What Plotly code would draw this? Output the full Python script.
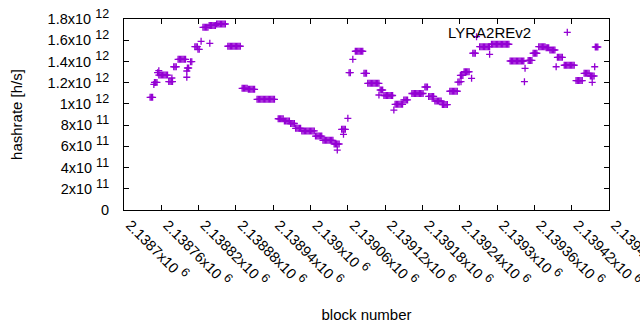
import plotly.graph_objects as go

BLOCK_BASE = 2138700

# block number offsets from BLOCK_BASE
block_offset = [
    42, 44, 46,
    48, 49, 51, 53, 54,
    56, 56, 58, 60, 62, 64, 66, 68, 70,
    72, 74, 76, 77, 78,
    80, 82, 84,
    87, 89, 91, 93, 95, 97, 99,
    101, 101,
    102, 104,
    107, 109,
    114, 116, 118, 119, 121,
    124,
    127, 129, 131, 133, 135,
    137, 138, 139, 141, 143, 145, 147,
    149, 151, 153, 155, 157, 159, 161, 163,
    167, 169, 171, 173, 175, 177, 179, 181, 183, 185, 187,
    190, 192, 194, 196, 198,
    200, 202, 204, 206, 208, 210,
    214, 216, 218, 220, 222, 224, 226, 228, 230, 232, 234, 236, 238, 240, 242,
    248, 250, 252, 254, 256,
    258, 260, 262, 264, 266, 268, 270, 272, 274,
    276, 278, 280, 282, 284,
    286, 288, 290, 292, 294, 296, 298, 300, 302, 304, 306,
    308, 310, 312, 314, 316, 318,
    320, 322, 324, 326, 328, 330, 332, 334, 336,
    338, 340, 342, 343, 344, 346,
    350, 352, 353, 354, 356,
    360, 362, 364, 368,
    372, 374, 376, 378, 380, 382, 384,
    386, 388, 390,
    392, 394, 396, 398, 400, 402, 404, 406, 408, 410,
    410, 412, 414, 416,
    418, 420, 422, 424, 426, 428, 430, 432,
    434,
    436, 438, 440, 442, 444, 446, 448, 450, 452, 454, 456,
    463, 465, 467, 469, 471, 473, 475, 477, 479, 481,
    484, 486, 488,
    490, 492, 494, 496, 498,
    500, 502, 504, 506, 508, 510,
    512, 514, 516, 518, 520,
    524, 526, 528, 530, 532, 534, 536,
    537, 539,
    541, 542, 543, 545,
    547, 549, 551, 553, 555, 559,
    561, 563, 565, 567,
    572, 574, 576, 578, 580, 582, 584, 586, 588, 588,
    591, 593, 595, 597, 599, 601, 603, 605, 607, 609, 611, 613, 615, 617, 619,
    621, 623, 625, 627, 629, 631, 633, 635, 637, 639, 641, 643,
    644, 645,
    650, 652, 654, 656,
    658, 660, 662, 664,
    667, 669, 671, 673, 675, 677,
    679, 681, 683, 685, 687, 689, 691, 693,
    695, 697, 699, 701, 703, 705,
    708, 710, 712, 714, 716, 718, 720, 722, 724,
    727, 729, 731, 733, 735, 737,
    740, 742, 744, 746, 748,
    750, 752, 753, 754, 756, 757,
    758, 760, 762,
]

# hashrate in units of 10^12 h/s
hashrate_e12 = [
    1.062, 1.062, 1.062,
    1.183, 1.202, 1.202, 1.202, 1.294,
    1.313, 1.272, 1.272, 1.272, 1.272, 1.272, 1.272, 1.272, 1.272,
    1.21, 1.21, 1.21, 1.244, 1.21,
    1.35, 1.35, 1.35,
    1.42, 1.42, 1.42, 1.42, 1.42, 1.42, 1.42,
    1.251, 1.31,
    1.338, 1.338,
    1.398, 1.398,
    1.539, 1.539, 1.539, 1.514, 1.514,
    1.59,
    1.722, 1.722, 1.722, 1.722, 1.722,
    1.739, 1.571, 1.739, 1.739, 1.739, 1.739, 1.739,
    1.753, 1.753, 1.753, 1.753, 1.753, 1.753, 1.753, 1.753,
    1.543, 1.543, 1.543, 1.543, 1.543, 1.543, 1.543, 1.543, 1.543, 1.543, 1.543,
    1.147, 1.147, 1.147, 1.147, 1.147,
    1.137, 1.137, 1.137, 1.137, 1.137, 1.137,
    1.043, 1.043, 1.043, 1.043, 1.043, 1.043, 1.043, 1.043, 1.043, 1.043, 1.043, 1.043, 1.043, 1.043, 1.043,
    0.86, 0.86, 0.86, 0.86, 0.86,
    0.839, 0.839, 0.839, 0.839, 0.839, 0.815, 0.815, 0.815, 0.815,
    0.77, 0.77, 0.77, 0.77, 0.77,
    0.745, 0.745, 0.745, 0.745, 0.745, 0.745, 0.745, 0.745, 0.745, 0.745, 0.745,
    0.697, 0.697, 0.697, 0.697, 0.697, 0.697,
    0.657, 0.657, 0.657, 0.657, 0.657, 0.657, 0.657, 0.657, 0.657,
    0.622, 0.622, 0.622, 0.565, 0.622, 0.622,
    0.76, 0.76, 0.713, 0.76, 0.76,
    0.864, 1.294, 1.294, 1.42,
    1.496, 1.496, 1.496, 1.496, 1.496, 1.496, 1.496,
    1.288, 1.288, 1.288,
    1.194, 1.194, 1.194, 1.194, 1.194, 1.194, 1.194, 1.194, 1.194, 1.194,
    1.084, 1.131, 1.131, 1.131,
    1.079, 1.079, 1.079, 1.079, 1.079, 1.079, 1.079, 1.079,
    0.942,
    0.996, 0.996, 0.996, 0.996, 0.996, 0.996, 0.996, 1.037, 1.037, 1.037, 1.037,
    1.098, 1.098, 1.098, 1.098, 1.098, 1.098, 1.098, 1.098, 1.098, 1.098,
    1.159, 1.159, 1.159,
    1.07, 1.07, 1.07, 1.07, 1.07,
    1.027, 1.027, 1.027, 1.027, 1.027, 1.027,
    0.994, 0.994, 0.994, 0.994, 0.994,
    1.119, 1.119, 1.119, 1.119, 1.119, 1.119, 1.119,
    1.206, 1.206,
    1.268, 1.209, 1.268, 1.268,
    1.303, 1.303, 1.303, 1.303, 1.303, 1.241,
    1.477, 1.477, 1.477, 1.633,
    1.539, 1.539, 1.539, 1.539, 1.539, 1.539, 1.539, 1.539, 1.539, 1.467,
    1.562, 1.562, 1.562, 1.562, 1.562, 1.562, 1.562, 1.562, 1.562, 1.562, 1.562, 1.562, 1.562, 1.562, 1.562,
    1.404, 1.404, 1.404, 1.404, 1.404, 1.404, 1.404, 1.404, 1.404, 1.404, 1.404, 1.404,
    1.209, 1.335,
    1.41, 1.41, 1.41, 1.41,
    1.477, 1.477, 1.477, 1.477,
    1.539, 1.539, 1.539, 1.539, 1.539, 1.539,
    1.53, 1.53, 1.53, 1.508, 1.508, 1.508, 1.508, 1.508,
    1.35, 1.439, 1.439, 1.439, 1.439, 1.439,
    1.364, 1.364, 1.364, 1.364, 1.364, 1.364, 1.364, 1.364, 1.364,
    1.22, 1.22, 1.22, 1.22, 1.22, 1.22,
    1.288, 1.288, 1.288, 1.288, 1.288,
    1.263, 1.263, 1.203, 1.263, 1.263, 1.35,
    1.536, 1.536, 1.536,
]

x_tickvals = [2138700, 2138760, 2138820, 2138880, 2138940, 2139000, 2139060,
              2139120, 2139180, 2139240, 2139300, 2139360, 2139420, 2139480]
x_tick_mantissa = ["2.1387", "2.13876", "2.13882", "2.13888", "2.13894", "2.139", "2.13906",
                   "2.13912", "2.13918", "2.13924", "2.1393", "2.13936", "2.13942", "2.13948"]
x_tick_exp = "6"
y_tickvals = [0, 2e11, 4e11, 6e11, 8e11, 1e12, 1.2e12, 1.4e12, 1.6e12, 1.8e12]
y_tick_mantissa = ["0", "2", "4", "6", "8", "1", "1.2", "1.4", "1.6", "1.8"]
y_tick_exp = ["", "11", "11", "11", "11", "12", "12", "12", "12", "12"]

series_name = "LYRA2REv2"
COLOR = "#9400D3"
FONT = "Liberation Sans, Arial, sans-serif"
SUP = '<sup><span style="font-size:12.5px">{}</span></sup>'


def sci(m, e):
    return m if not e else m + "x10 " + SUP.format(e)


x_ticktext = [sci(m, x_tick_exp) for m in x_tick_mantissa]
y_ticktext = [sci(m, e) for m, e in zip(y_tick_mantissa, y_tick_exp)]

blocks = [BLOCK_BASE + o for o in block_offset]
hashrate = [v * 1e12 for v in hashrate_e12]

fig = go.Figure()
fig.add_trace(go.Scatter(
    x=blocks, y=hashrate, mode="markers", name=series_name,
    marker=dict(symbol="cross-thin", size=5, color=COLOR,
                line=dict(color=COLOR, width=1.3)),
    showlegend=False, hoverinfo="skip",
))

axis_common = dict(
    showline=True, linecolor="black", linewidth=1, mirror="ticks",
    ticks="inside", ticklen=5, tickcolor="black", tickwidth=1,
    showgrid=False, zeroline=False, ticklabeloverflow="allow",
    tickfont=dict(family=FONT, size=14.5, color="black"),
)

fig.update_layout(
    width=640, height=330,
    margin=dict(l=124, r=31, t=19, b=120, autoexpand=False),
    paper_bgcolor="white", plot_bgcolor="white",
    font=dict(family=FONT, size=14.5, color="black"),
    hovermode=False,
    xaxis=dict(range=[x_tickvals[0], x_tickvals[-1]], tickmode="array",
               tickvals=x_tickvals, ticktext=x_ticktext, tickangle=45,
               ticklabelshift=6,
               title=dict(text="block number", font=dict(family=FONT, size=15), standoff=20),
               **axis_common),
    yaxis=dict(range=[y_tickvals[0], y_tickvals[-1]], tickmode="array",
               tickvals=y_tickvals, ticktext=y_ticktext, ticklabelstandoff=11,
               title=dict(text="hashrate [h/s]", font=dict(family=FONT, size=15), standoff=21),
               **axis_common),
    annotations=[dict(text=series_name, xref="paper", yref="paper", x=0.844, y=0.93,
                      xanchor="right", yanchor="middle", showarrow=False,
                      font=dict(family=FONT, size=15, color="black"))],
    shapes=[
        dict(type="line", xref="paper", yref="paper", xsizemode="pixel", ysizemode="pixel",
             xanchor=0.914, yanchor=0.93, x0=-3.5, x1=3.5, y0=0, y1=0,
             line=dict(color=COLOR, width=1.3)),
        dict(type="line", xref="paper", yref="paper", xsizemode="pixel", ysizemode="pixel",
             xanchor=0.914, yanchor=0.93, x0=0, x1=0, y0=-3.5, y1=3.5,
             line=dict(color=COLOR, width=1.3)),
    ],
)

fig.write_html("out.html", config={"displayModeBar": False, "staticPlot": True},
               post_script="document.body.style.margin='0';")
